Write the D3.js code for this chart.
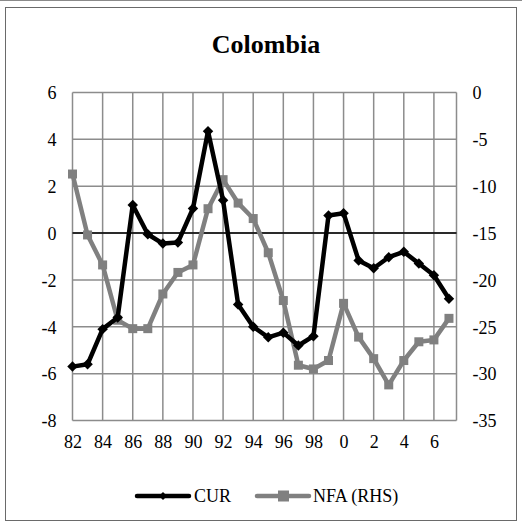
<!DOCTYPE html>
<html>
<head>
<meta charset="utf-8">
<script src="https://cdn.jsdelivr.net/npm/d3@7"></script>
</head>
<body style="margin:0">
<script>
// Years (1982-2007) and the two series
const years = d3.range(1982, 2008);
const cur = [-5.7, -5.6, -4.1, -3.6, 1.2, -0.05, -0.45, -0.4, 1.05, 4.35, 1.4, -3.05,
             -4.0, -4.45, -4.25, -4.8, -4.4, 0.75, 0.85, -1.17, -1.5, -1.03, -0.8, -1.3, -1.8, -2.8];
const nfa = [-8.7, -15.2, -18.4, -24.3, -25.2, -25.2, -21.5, -19.2, -18.4, -12.4, -9.3, -11.8,
             -13.45, -17.1, -22.2, -29.1, -29.5, -28.6, -22.5, -26.1, -28.4, -31.2, -28.6, -26.6, -26.4, -24.1];
const leftTicks = [6, 4, 2, 0, -2, -4, -6, -8];
const rightTicks = [0, -5, -10, -15, -20, -25, -30, -35];
const xTicks = d3.range(1982, 2007, 2);
const seriesNames = ["CUR", "NFA (RHS)"];

const W = 522, H = 526;
const FONT = '"Times New Roman"';
const plot = { left: 72.5, right: 456.5, top: 92.5, bottom: 420.5 };

const svg = d3.select("body").append("svg").attr("width", W).attr("height", H)
  .style("display", "block");

// chart frame
svg.append("line").attr("x1", 0).attr("x2", W).attr("y1", 0.5).attr("y2", 0.5)
  .attr("stroke", "#8a8a8a").attr("stroke-width", 1);
svg.append("rect").attr("x", 5.5).attr("y", 7.5).attr("width", 511).attr("height", 513)
  .attr("fill", "none").attr("stroke", "#6a6a6a").attr("stroke-width", 1);

const x = d3.scaleLinear().domain([1982, 2007.5]).range([plot.left, plot.right]);
const yL = d3.scaleLinear().domain([-8, 6]).range([plot.bottom, plot.top]);
const yR = d3.scaleLinear().domain([-35, 0]).range([plot.bottom, plot.top]);

// title
svg.append("text").attr("x", 266).attr("y", 53).attr("text-anchor", "middle")
  .attr("font-family", FONT).attr("font-size", 26).attr("font-weight", "bold")
  .text("Colombia");

// grid
const grid = svg.append("g").attr("stroke", "#8c8c8c").attr("stroke-width", 1.5);
grid.selectAll(".h").data(leftTicks).join("line")
  .attr("x1", plot.left).attr("x2", plot.right)
  .attr("y1", d => yL(d)).attr("y2", d => yL(d));
grid.selectAll(".v").data(xTicks).join("line")
  .attr("x1", d => x(d)).attr("x2", d => x(d))
  .attr("y1", plot.top).attr("y2", plot.bottom);
grid.append("line").attr("x1", plot.right).attr("x2", plot.right)
  .attr("y1", plot.top).attr("y2", plot.bottom);

// zero line
svg.append("line").attr("x1", plot.left).attr("x2", plot.right)
  .attr("y1", yL(0)).attr("y2", yL(0)).attr("stroke", "#000").attr("stroke-width", 1.5);

// axis labels (plain hyphen for negatives)
const axL = svg.append("g").attr("transform", `translate(${plot.left - 16},0)`)
  .call(d3.axisLeft(yL).tickValues(leftTicks).tickSize(0).tickPadding(0).tickFormat(d => String(d)));
const axR = svg.append("g").attr("transform", `translate(${plot.right + 16},0)`)
  .call(d3.axisRight(yR).tickValues(rightTicks).tickSize(0).tickPadding(0).tickFormat(d => String(d)));
const axB = svg.append("g").attr("transform", `translate(0,${plot.bottom + 15})`)
  .call(d3.axisBottom(x).tickValues(xTicks).tickSize(0).tickPadding(0)
    .tickFormat(d => String(d % 100)));
[axL, axR, axB].forEach(g => {
  g.attr("font-family", FONT).attr("font-size", 18);
  g.select(".domain").remove();
  g.selectAll("text").attr("fill", "#000").attr("font-family", FONT).attr("font-size", 18);
});
axL.selectAll("text").attr("dy", "0.35em");
axR.selectAll("text").attr("dy", "0.35em");
axB.selectAll("text").attr("dy", "0.71em");

// series lines
const lineCur = d3.line().x((d, i) => x(years[i])).y(d => yL(d));
const lineNfa = d3.line().x((d, i) => x(years[i])).y(d => yR(d));

svg.append("path").datum(nfa).attr("d", lineNfa).attr("fill", "none")
  .attr("stroke", "#808080").attr("stroke-width", 4.5).attr("stroke-linejoin", "round");
svg.selectAll(".sq").data(nfa).join("rect")
  .attr("x", (d, i) => x(years[i]) - 4.5).attr("y", d => yR(d) - 4.5)
  .attr("width", 9).attr("height", 9).attr("fill", "#808080");

svg.append("path").datum(cur).attr("d", lineCur).attr("fill", "none")
  .attr("stroke", "#000").attr("stroke-width", 4.5).attr("stroke-linejoin", "round");
const diamond = d3.symbol().type(d3.symbolDiamond2).size(70);
svg.selectAll(".dm").data(cur).join("path")
  .attr("d", diamond)
  .attr("transform", (d, i) => `translate(${x(years[i])},${yL(d)})`)
  .attr("fill", "#000");

// legend
const legY = 496;
const leg = svg.append("g");
leg.append("line").attr("x1", 137).attr("x2", 189).attr("y1", legY).attr("y2", legY)
  .attr("stroke", "#000").attr("stroke-width", 4.5).attr("stroke-linecap", "round");
leg.append("path").attr("d", d3.symbol().type(d3.symbolDiamond2).size(40))
  .attr("transform", `translate(163,${legY})`).attr("fill", "#000");
leg.append("text").attr("x", 194).attr("y", legY).attr("dy", "0.35em")
  .attr("font-family", FONT).attr("font-size", 18).text(seriesNames[0]);
leg.append("line").attr("x1", 257).attr("x2", 309).attr("y1", legY).attr("y2", legY)
  .attr("stroke", "#808080").attr("stroke-width", 4.5).attr("stroke-linecap", "round");
leg.append("rect").attr("x", 278).attr("y", legY - 5.5).attr("width", 11).attr("height", 11)
  .attr("fill", "#808080");
leg.append("text").attr("x", 313).attr("y", legY).attr("dy", "0.35em")
  .attr("font-family", FONT).attr("font-size", 18).text(seriesNames[1]);
</script>
</body>
</html>
